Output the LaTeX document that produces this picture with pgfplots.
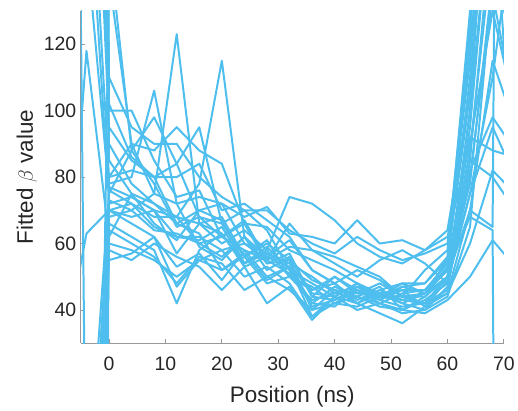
\documentclass[border=0pt]{standalone}
\usepackage{pgfplots}
\usepackage{pgfplotstable}
\pgfplotsset{compat=1.18}
\usepackage{fontspec}
\setmainfont{Liberation Sans}

\definecolor{lineblue}{rgb}{0.301,0.745,0.933}
\definecolor{txtgray}{rgb}{0.15,0.15,0.15}

% one column per fitted trace, x = position in ns
\pgfplotstableread{
x   s1  s2  s3   s4   s5  s6  s7   s8    s9   s10 s11 s12 s13  s14 s15  s16 s17 s18  s19 s20 s21 s22  s23 s24 s25 s26
-8  26  27  630  -200 -20 -60 -500 -1000 -100 -40 200 300 1000 250 -300 400 600 -150 150 -80 500 -400 180 -30 800 -700
-4  118 63  -37  -200 -20 -60 -500 -1000 -100 -40 200 300 1000 250 -300 400 600 -150 150 -80 500 -400 180 -30 800 -700
0   62  70  70   78   75  68  72   80    66   70  80  100 110  95  140  150 90  60   76  58  85  64   73  55  102 77
4   75  68  72   80   88  70  74   82    62   66  90  100 95   85  90   88  78  58   72  55  75  60   70  57  86  74
8   72  70  65   106  98  75  70   80    58   62  88  85  90   80  75   78  72  55   68  60  66  56   64  62  80  70
12  68  57  62   72   84  123 68   84    42   47  95  74  90   66  72   65  66  50   68  56  61  48   63  53  80  62
16  60  66  62   74   68  66  78   95    58   55  88  76  80   70  59   68  63  55   66  53  70  56   60  57  84  61
20  56  63  58   72   62  68  115  66    63   52  84  62  74   67  55   66  52  58   60  46  72  54   62  49  70  65
24  62  54  60   60   66  56  62   70    53   56  66  67  70   54  62   56  57  50   64  53  68  46   58  58  72  54
28  54  59  55   57   54  61  56   64    56   48  65  55  70   58  52   60  49  53   58  42  71  50   55  50  67  57
32  55  52  51   54   57  50  61   52    53   50  58  59  64   50  56   55  53  48   74  47  63  46   66  53  62  54
36  40  48  42   50   44  47  52   41    38   43  55  58  60   46  44   49  42  38   72  37  62  40   58  46  52  45
40  46  44  47   45   50  42  48   43    42   45  52  56  57   48  43   46  41  44   67  44  60  42   54  50  48  44
44  42  48  44   47   45  46  42   47    41   44  48  53  62   43  46   45  47  40   60  42  67  44   50  46  52  48
48  45  43  47   43   48  42  46   45    44   42  44  50  58   46  43   44  45  42   56  39  60  41   55  44  49  45
52  42  46  40   47   44  45  43   42    43   40  48  44  55   48  41   44  46  39   54  36  61  40   58  47  44  43
56  45  46  43   48   42  46  45   40    42   44  48  52  57   45  42   44  41  40   58  41  58  39   54  45  45  42
60  50  52  48   56   50  54  52   47    45   50  55  58  60   53  46   50  49  44   62  45  64  43   48  52  55  50
64  85  78  100  120  95  110 88   80    70   82  105 125 115  92  85   75  100 65   90  60  105 50   75  68  130 70
68  160 140 200  250  170 180 150  135   115  98  190 260 210  88  80   95  170 140  130 82  220 61   110 64  240 65
72  110 120 150  180  70  90  120  100   95   88  140 200 130  86  70   80  125 160  100 75  180 53   160 -1000 160 1000
}\fits

\begin{document}
\begin{tikzpicture}
\begin{axis}[
    scale only axis,
    width=424bp, height=333bp,
    xmin=-5, xmax=70, ymin=30, ymax=130,
    axis x line*=bottom, axis y line*=left,
    axis line style={black!40, line width=0.8bp},
    tick align=inside,
    major tick length=4.5bp,
    every tick/.style={black!40, line width=0.8bp},
    xtick={0,10,...,70}, ytick={40,60,...,120},
    /pgf/number format/assume math mode=true,
    tick label style={font=\fontsize{19.5bp}{23bp}\selectfont, text=txtgray},
    xticklabel style={anchor=base, yshift=-27.5bp},
    yticklabel style={xshift=-1bp},
    label style={font=\fontsize{22.5bp}{27bp}\selectfont, text=txtgray},
    xlabel={Position (ns)},
    ylabel={Fitted $\beta$ value},
    xlabel style={at={(axis description cs:0.5,0)}, anchor=base, yshift=-59bp},
    ylabel style={at={(axis description cs:0,0.5)}, anchor=base, yshift=48bp},
]
\pgfplotsinvokeforeach{1,...,26}{
    \addplot[lineblue, line width=2bp, line join=round, no markers] table[x=x, y=s#1] {\fits};
}
\end{axis}
\path (current axis.south west) ++(-81bp,-61bp);
\path (current axis.north east) ++(13bp,11bp);
\end{tikzpicture}
\end{document}
